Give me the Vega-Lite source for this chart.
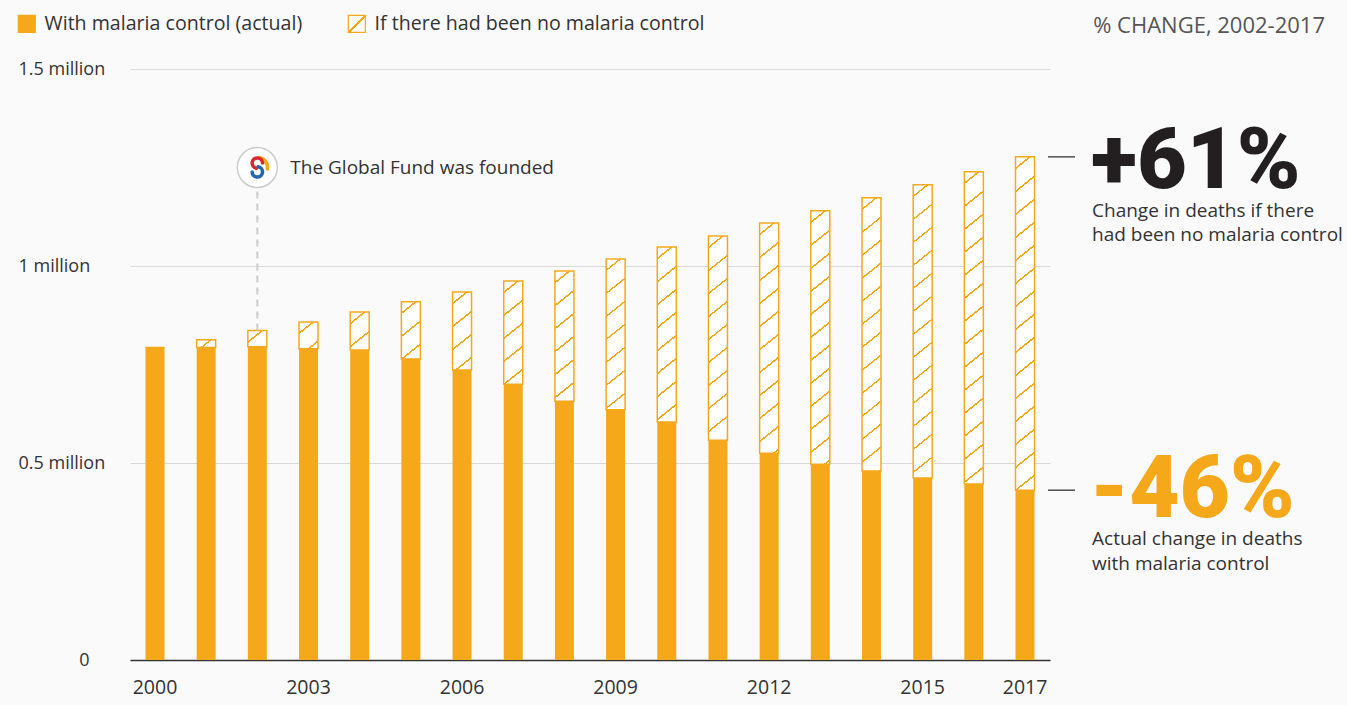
{
  "$schema": "https://vega.github.io/schema/vega-lite/v6.json",
  "width": 920,
  "height": 591,
  "autosize": {"type": "none"},
  "padding": {"left": 130, "top": 69, "right": 297, "bottom": 45},
  "background": "#fafafa",
  "config": {
    "view": {"stroke": null},
    "font": "Open Sans",
    "text": {"font": "Open Sans"}
  },
  "title": {
    "text": "% CHANGE, 2002-2017",
    "anchor": "end",
    "frame": "group",
    "dx": 275,
    "offset": -24,
    "fontSize": 22,
    "fontWeight": "normal",
    "font": "Open Sans",
    "color": "#555555"
  },
  "datasets": {
    "bars": [
      {"year": 2000, "actual": 793000, "nc": 793000},
      {"year": 2001, "actual": 793000, "nc": 813000},
      {"year": 2002, "actual": 795000, "nc": 836000},
      {"year": 2003, "actual": 790000, "nc": 858000},
      {"year": 2004, "actual": 787000, "nc": 883000},
      {"year": 2005, "actual": 764000, "nc": 909000},
      {"year": 2006, "actual": 736000, "nc": 934000},
      {"year": 2007, "actual": 700000, "nc": 962000},
      {"year": 2008, "actual": 657000, "nc": 987000},
      {"year": 2009, "actual": 635000, "nc": 1018000},
      {"year": 2010, "actual": 604000, "nc": 1048000},
      {"year": 2011, "actual": 558000, "nc": 1076000},
      {"year": 2012, "actual": 525000, "nc": 1109000},
      {"year": 2013, "actual": 497000, "nc": 1140000},
      {"year": 2014, "actual": 480000, "nc": 1173000},
      {"year": 2015, "actual": 462000, "nc": 1206000},
      {"year": 2016, "actual": 447000, "nc": 1239000},
      {"year": 2017, "actual": 431000, "nc": 1277000}
    ],
    "founded": [
      {"year": 2002, "value": 1250000, "label": "The Global Fund was founded"}
    ],
    "notes": [
      {"year": 2017, "value": 1277000, "kind": "nc", "big": "+61%", "desc": "Change in deaths if there\nhad been no malaria control"},
      {"year": 2017, "value": 431000, "kind": "actual", "big": "-46%", "desc": "Actual change in deaths\nwith malaria control"}
    ]
  },
  "data": {"name": "bars"},
  "encoding": {
    "x": {
      "field": "year",
      "type": "ordinal",
      "scale": {"paddingInner": 0.629, "paddingOuter": 0.3025},
      "axis": {
        "values": [2000, 2003, 2006, 2009, 2012, 2015, 2017],
        "labelAngle": 0,
        "ticks": false,
        "tickSize": 0,
        "domain": true,
        "domainColor": "#333333",
        "domainWidth": 1.5,
        "labelPadding": 18,
        "labelFontSize": 19.5,
        "labelFont": "Open Sans",
        "labelColor": "#333333",
        "title": null,
        "grid": false
      }
    }
  },
  "layer": [
    {
      "mark": {"type": "bar", "stroke": "#F6A81B", "strokeWidth": 1.5},
      "encoding": {
        "y": {
          "field": "nc",
          "type": "quantitative",
          "scale": {"domain": [0, 1500000], "nice": false},
          "axis": {
            "values": [0, 500000, 1000000, 1500000],
            "labelExpr": "datum.value == 0 ? '\u200b\u00a0\u00a0\u00a0\u00a0\u00a0\u00a0\u00a0\u00a0\u00a0\u00a0\u00a0\u00a0\u00a00' : (datum.value / 1000000) + ' million'",
            "labelAlign": "left",
            "labelBaseline": "middle",
            "labelPadding": 112,
            "ticks": false,
            "tickSize": 0,
            "domain": false,
            "grid": true,
            "gridColor": "#d9d9d9",
            "gridWidth": 1,
            "labelFontSize": 18,
            "labelFont": "Open Sans",
            "labelColor": "#333333",
            "title": null
          }
        },
        "y2": {"field": "actual"},
        "fill": {
          "value": {
            "expr": "{gradient:'linear',x1:0,y1:0,x2:368*bandwidth('x')/(0.64*pow(bandwidth('x'),2)+pow(scale('y',datum.actual)-scale('y',datum.nc),2)),y2:460*(scale('y',datum.actual)-scale('y',datum.nc))/(0.64*pow(bandwidth('x'),2)+pow(scale('y',datum.actual)-scale('y',datum.nc),2)),stops:[{offset:0,color:'#fff'},{offset:0.0229,color:'#fff'},{offset:0.0229,color:'#F6A81B'},{offset:0.0271,color:'#F6A81B'},{offset:0.0271,color:'#fff'},{offset:0.0729,color:'#fff'},{offset:0.0729,color:'#F6A81B'},{offset:0.0771,color:'#F6A81B'},{offset:0.0771,color:'#fff'},{offset:0.1229,color:'#fff'},{offset:0.1229,color:'#F6A81B'},{offset:0.1271,color:'#F6A81B'},{offset:0.1271,color:'#fff'},{offset:0.1729,color:'#fff'},{offset:0.1729,color:'#F6A81B'},{offset:0.1771,color:'#F6A81B'},{offset:0.1771,color:'#fff'},{offset:0.2229,color:'#fff'},{offset:0.2229,color:'#F6A81B'},{offset:0.2271,color:'#F6A81B'},{offset:0.2271,color:'#fff'},{offset:0.2729,color:'#fff'},{offset:0.2729,color:'#F6A81B'},{offset:0.2771,color:'#F6A81B'},{offset:0.2771,color:'#fff'},{offset:0.3229,color:'#fff'},{offset:0.3229,color:'#F6A81B'},{offset:0.3271,color:'#F6A81B'},{offset:0.3271,color:'#fff'},{offset:0.3729,color:'#fff'},{offset:0.3729,color:'#F6A81B'},{offset:0.3771,color:'#F6A81B'},{offset:0.3771,color:'#fff'},{offset:0.4229,color:'#fff'},{offset:0.4229,color:'#F6A81B'},{offset:0.4271,color:'#F6A81B'},{offset:0.4271,color:'#fff'},{offset:0.4729,color:'#fff'},{offset:0.4729,color:'#F6A81B'},{offset:0.4771,color:'#F6A81B'},{offset:0.4771,color:'#fff'},{offset:0.5229,color:'#fff'},{offset:0.5229,color:'#F6A81B'},{offset:0.5271,color:'#F6A81B'},{offset:0.5271,color:'#fff'},{offset:0.5729,color:'#fff'},{offset:0.5729,color:'#F6A81B'},{offset:0.5771,color:'#F6A81B'},{offset:0.5771,color:'#fff'},{offset:0.6229,color:'#fff'},{offset:0.6229,color:'#F6A81B'},{offset:0.6271,color:'#F6A81B'},{offset:0.6271,color:'#fff'},{offset:0.6729,color:'#fff'},{offset:0.6729,color:'#F6A81B'},{offset:0.6771,color:'#F6A81B'},{offset:0.6771,color:'#fff'},{offset:0.7229,color:'#fff'},{offset:0.7229,color:'#F6A81B'},{offset:0.7271,color:'#F6A81B'},{offset:0.7271,color:'#fff'},{offset:0.7729,color:'#fff'},{offset:0.7729,color:'#F6A81B'},{offset:0.7771,color:'#F6A81B'},{offset:0.7771,color:'#fff'},{offset:1,color:'#fff'}]}"
          }
        }
      }
    },
    {
      "mark": {"type": "bar"},
      "encoding": {
        "y": {"field": "actual", "type": "quantitative", "title": null},
        "fill": {
          "datum": "With malaria control (actual)",
          "type": "nominal",
          "scale": {
            "domain": ["With malaria control (actual)", "If there had been no malaria control"],
            "range": [
              "#F6A81B",
              {"expr": "{gradient:'linear',x1:0,y1:0,x2:1,y2:1,stops:[{offset:0,color:'#fff'},{offset:0.455,color:'#fff'},{offset:0.455,color:'#F6A81B'},{offset:0.545,color:'#F6A81B'},{offset:0.545,color:'#fff'},{offset:1,color:'#fff'}]}"}
            ]
          },
          "legend": {
            "title": null,
            "orient": "none",
            "legendX": -113,
            "legendY": -55,
            "direction": "horizontal",
            "symbolType": "square",
            "symbolSize": 289,
            "symbolStrokeColor": "#F6A81B",
            "symbolStrokeWidth": 1.2,
            "symbolOpacity": 1,
            "labelFontSize": 19.6,
            "labelFont": "Open Sans",
            "labelColor": "#333333",
            "labelOffset": 8,
            "columnPadding": 42,
            "labelLimit": 500
          }
        }
      }
    },
    {
      "data": {"name": "founded"},
      "transform": [{"lookup": "year", "from": {"data": {"name": "bars"}, "key": "year", "fields": ["nc"]}}],
      "mark": {"type": "rule", "color": "#cccccc", "strokeWidth": 2, "strokeDash": [7, 5]},
      "encoding": {
        "y": {"field": "value", "type": "quantitative"},
        "y2": {"field": "nc"}
      }
    },
    {
      "data": {"name": "founded"},
      "mark": {"type": "point", "shape": "circle", "size": 1600, "filled": true, "fill": "#ffffff", "stroke": "#cccccc", "strokeWidth": 1.5, "opacity": 1},
      "encoding": {"y": {"field": "value", "type": "quantitative"}}
    },
    {
      "data": {"name": "founded"},
      "mark": {"type": "point", "shape": "M 0.1 -0.5 A 0.5 0.5 0 0 1 0.5 0.08", "size": 1600, "filled": false, "stroke": "#F6A81B", "strokeWidth": 3.5, "opacity": 1, "strokeCap": "round"},
      "encoding": {"y": {"field": "value", "type": "quantitative"}}
    },
    {
      "data": {"name": "founded"},
      "mark": {"type": "point", "shape": "M 0.26 -0.22 A 0.26 0.26 0 1 0 -0.045 0.036", "size": 1600, "filled": false, "stroke": "#D9272E", "strokeWidth": 3.5, "opacity": 1, "strokeCap": "round"},
      "encoding": {"y": {"field": "value", "type": "quantitative"}}
    },
    {
      "data": {"name": "founded"},
      "mark": {"type": "point", "shape": "M -0.26 0.22 A 0.26 0.26 0 1 0 0.045 -0.036", "size": 1600, "filled": false, "stroke": "#2466B0", "strokeWidth": 3.5, "opacity": 1, "strokeCap": "round"},
      "encoding": {"y": {"field": "value", "type": "quantitative"}}
    },
    {
      "data": {"name": "founded"},
      "mark": {"type": "text", "align": "left", "baseline": "middle", "dx": 33, "fontSize": 19, "color": "#333333"},
      "encoding": {
        "y": {"field": "value", "type": "quantitative"},
        "text": {"field": "label"}
      }
    },
    {
      "data": {"name": "notes"},
      "mark": {"type": "tick", "orient": "horizontal", "size": 27, "thickness": 1.3, "xOffset": 36.5, "color": "#333333", "opacity": 1},
      "encoding": {"y": {"field": "value", "type": "quantitative"}}
    },
    {
      "data": {"name": "notes"},
      "transform": [{"filter": "datum.kind == 'nc'"}],
      "mark": {"type": "text", "align": "left", "baseline": "alphabetic", "dx": 66, "dy": 31, "font": "Roboto", "fontSize": 86, "fontWeight": 900, "color": "#231F20"},
      "encoding": {
        "y": {"field": "value", "type": "quantitative"},
        "text": {"field": "big"}
      }
    },
    {
      "data": {"name": "notes"},
      "transform": [{"filter": "datum.kind == 'actual'"}],
      "mark": {"type": "text", "align": "left", "baseline": "alphabetic", "dx": 65, "dy": 27, "font": "Roboto", "fontSize": 87, "fontWeight": 900, "color": "#F6A81B"},
      "encoding": {
        "y": {"field": "value", "type": "quantitative"},
        "text": {"field": "big"}
      }
    },
    {
      "data": {"name": "notes"},
      "transform": [{"filter": "datum.kind == 'nc'"}],
      "mark": {"type": "text", "align": "left", "baseline": "alphabetic", "dx": 67, "dy": 60, "fontSize": 19, "lineBreak": "\n", "lineHeight": 24.5, "color": "#333333"},
      "encoding": {
        "y": {"field": "value", "type": "quantitative"},
        "text": {"field": "desc"}
      }
    },
    {
      "data": {"name": "notes"},
      "transform": [{"filter": "datum.kind == 'actual'"}],
      "mark": {"type": "text", "align": "left", "baseline": "alphabetic", "dx": 67, "dy": 55, "fontSize": 19, "lineBreak": "\n", "lineHeight": 24.5, "color": "#333333"},
      "encoding": {
        "y": {"field": "value", "type": "quantitative"},
        "text": {"field": "desc"}
      }
    }
  ]
}
